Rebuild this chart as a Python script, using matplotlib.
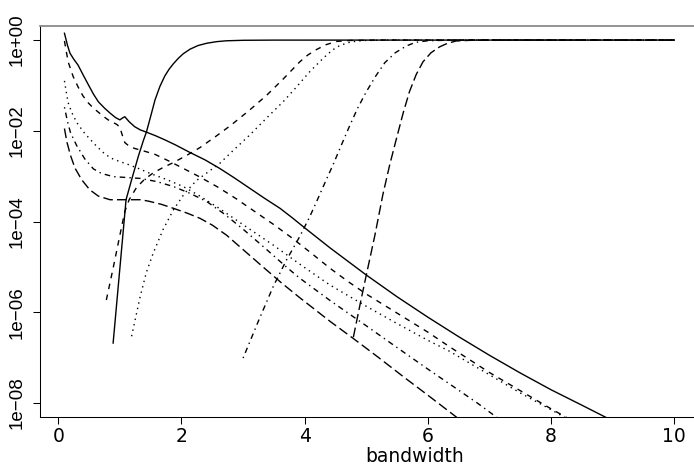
import matplotlib
matplotlib.use('Agg')
import matplotlib.pyplot as plt
import numpy as np

# values; y values are stored as log10(y)

# decreasing curves
f1_x = [0.10, 0.15, 0.19, 0.25, 0.32, 0.40, 0.49, 0.57, 0.65, 0.75, 0.84, 0.93, 1.00, 1.04, 1.08,
        1.15, 1.24, 1.33, 1.43, 1.58, 1.73, 1.90, 2.14, 2.38, 2.62, 2.86, 3.11, 3.35, 3.60, 3.80,
        4.00, 4.41, 5.00, 5.50, 6.00, 6.50, 7.00, 7.50, 8.00, 8.50, 8.95]
f1_y = [0.15, -0.12, -0.29, -0.42, -0.55, -0.76, -0.99, -1.19, -1.36, -1.50, -1.61, -1.71, -1.76,
        -1.72, -1.69, -1.80, -1.91, -1.98, -2.03, -2.11, -2.20, -2.31, -2.48, -2.64, -2.83, -3.04,
        -3.27, -3.49, -3.71, -3.92, -4.14, -4.58, -5.18, -5.66, -6.11, -6.54, -6.95, -7.34, -7.71,
        -8.05, -8.36]

f2_x = [0.10, 0.13, 0.16, 0.24, 0.32, 0.40, 0.49, 0.57, 0.65, 0.73, 0.81, 0.95, 1.00, 1.03, 1.08,
        1.15, 1.24, 1.40, 1.57, 1.80, 2.03, 2.30, 2.60, 2.89, 3.20, 3.50, 3.80, 4.10, 4.41, 4.70,
        5.00, 5.50, 6.00, 6.35, 7.00, 7.50, 8.00, 8.25]
f2_y = [-0.02, -0.25, -0.48, -0.80, -1.03, -1.23, -1.39, -1.50, -1.59, -1.68, -1.76, -1.86, -1.92,
        -2.06, -2.26, -2.34, -2.39, -2.45, -2.52, -2.67, -2.83, -3.02, -3.25, -3.50, -3.79, -4.07,
        -4.37, -4.69, -5.03, -5.32, -5.60, -6.02, -6.44, -6.76, -7.33, -7.73, -8.13, -8.32]

f3_x = [0.10, 0.13, 0.16, 0.22, 0.30, 0.43, 0.60, 0.73, 0.85, 1.00, 1.11, 1.30, 1.49, 1.75, 2.03,
        2.30, 2.60, 3.00, 3.50, 3.95, 4.41, 5.00, 5.50, 6.00, 6.35, 7.00, 7.50, 8.00, 8.25]
f3_y = [-0.90, -1.15, -1.38, -1.60, -1.82, -2.06, -2.31, -2.48, -2.60, -2.68, -2.73, -2.83, -2.94,
        -3.07, -3.23, -3.44, -3.70, -4.07, -4.53, -4.97, -5.40, -5.87, -6.25, -6.62, -6.86, -7.38,
        -7.78, -8.15, -8.34]

f4_x = [0.10, 0.15, 0.20, 0.30, 0.43, 0.57, 0.70, 0.89, 1.10, 1.33, 1.60, 1.87, 2.14, 2.41, 2.70,
        3.00, 3.35, 3.70, 3.92, 4.41, 5.00, 5.50, 6.08, 6.35, 6.80, 7.12]
f4_y = [-1.48, -1.80, -2.05, -2.33, -2.62, -2.84, -2.94, -3.01, -3.03, -3.05, -3.12, -3.23, -3.38,
        -3.56, -3.84, -4.17, -4.58, -5.00, -5.25, -5.74, -6.30, -6.78, -7.33, -7.58, -8.00, -8.32]

f5_x = [0.10, 0.14, 0.20, 0.27, 0.38, 0.51, 0.65, 0.84, 1.11, 1.33, 1.46, 1.67, 1.87, 2.10, 2.30,
        2.50, 2.73, 3.00, 3.33, 3.62, 3.92, 4.41, 4.79, 5.20, 5.60, 6.00, 6.47]
f5_y = [-1.95, -2.25, -2.55, -2.82, -3.08, -3.30, -3.44, -3.52, -3.52, -3.52, -3.55, -3.62, -3.71,
        -3.82, -3.93, -4.08, -4.30, -4.62, -5.01, -5.35, -5.68, -6.20, -6.58, -7.00, -7.42, -7.83,
        -8.32]

# increasing curves
r1_x = [0.89, 1.10, 1.19, 1.30, 1.38, 1.43, 1.50, 1.57, 1.65, 1.73, 1.80, 1.87, 1.95, 2.03, 2.14,
        2.27, 2.41, 2.57, 2.73, 3.00, 3.50, 10.0]
r1_y = [-6.68, -3.52, -3.08, -2.56, -2.22, -2.03, -1.68, -1.32, -1.02, -0.79, -0.64, -0.52, -0.40,
        -0.30, -0.20, -0.12, -0.07, -0.035, -0.016, -0.005, -0.001, 0.0]

r2_x = [0.78, 0.89, 1.00, 1.08, 1.15, 1.27, 1.40, 1.54, 1.70, 1.87, 2.10, 2.30, 2.55, 2.80, 3.10,
        3.38, 3.65, 3.92, 4.05, 4.19, 4.35, 4.52, 4.75, 5.20, 10.0]
r2_y = [-5.73, -5.03, -4.30, -3.78, -3.52, -3.25, -3.07, -2.93, -2.81, -2.70, -2.53, -2.37, -2.13,
        -1.88, -1.55, -1.22, -0.86, -0.48, -0.33, -0.21, -0.10, -0.03, -0.008, 0.0, 0.0]

r3_x = [1.19, 1.33, 1.43, 1.54, 1.70, 1.87, 2.05, 2.24, 2.46, 2.62, 2.85, 3.11, 3.38, 3.65, 3.85,
        4.08, 4.30, 4.45, 4.57, 4.75, 4.95, 5.40, 10.0]
r3_y = [-6.53, -5.65, -5.12, -4.70, -4.18, -3.74, -3.38, -3.10, -2.88, -2.72, -2.42, -2.09, -1.72,
        -1.36, -1.06, -0.70, -0.40, -0.22, -0.12, -0.04, -0.01, 0.0, 0.0]

r4_x = [3.00, 3.25, 3.49, 3.70, 3.92, 4.08, 4.20, 4.35, 4.46, 4.60, 4.73, 4.86, 5.00, 5.15, 5.30,
        5.47, 5.65, 5.80, 6.00, 6.40, 10.0]
r4_y = [-7.01, -6.19, -5.43, -4.86, -4.33, -3.90, -3.54, -3.08, -2.75, -2.30, -1.89, -1.50, -1.14,
        -0.80, -0.50, -0.28, -0.13, -0.05, -0.015, 0.0, 0.0]

r5_x = [4.79, 4.90, 5.00, 5.14, 5.27, 5.38, 5.49, 5.60, 5.70, 5.81, 5.92, 6.05, 6.19, 6.32, 6.46,
        6.70, 7.00, 10.0]
r5_y = [-6.55, -5.82, -5.18, -4.30, -3.40, -2.75, -2.17, -1.60, -1.14, -0.76, -0.48, -0.28, -0.15,
        -0.07, -0.02, -0.005, 0.0, 0.0]

x_ticks = [0, 2, 4, 6, 8, 10]
y_ticks = [1e0, 1e-2, 1e-4, 1e-6, 1e-8]
y_tick_labels = ['1e+00', '1e\u221202', '1e\u221204', '1e\u221206', '1e\u221208']

# R line types: solid, dashed, dotted, dotdash, longdash
ltys = ['-', (0, (4, 4)), (0, (1, 3)), (0, (1, 3, 4, 3)), (0, (7, 3))]


def main():
    plt.rcParams['font.family'] = ['Liberation Sans', 'DejaVu Sans']
    fig = plt.figure(figsize=(6.94, 4.69), dpi=100)
    W, H = 694.0, 469.0
    ax = fig.add_axes([40 / W, 52 / H, 658.7 / W, 391 / H])

    falling = [(f1_x, f1_y), (f2_x, f2_y), (f3_x, f3_y), (f4_x, f4_y), (f5_x, f5_y)]
    rising = [(r1_x, r1_y), (r2_x, r2_y), (r3_x, r3_y), (r4_x, r4_y), (r5_x, r5_y)]
    for i in range(5):
        x, y = falling[i]
        ax.plot(x, np.power(10.0, y), color='black', lw=1.0, linestyle=ltys[i])
        x, y = rising[i]
        ax.plot(x, np.power(10.0, y), color='black', lw=1.0, linestyle=ltys[i])

    ax.set_yscale('log')
    ax.set_xlim(-0.297, 10.396)
    ax.set_ylim(10 ** -8.31, 10 ** 0.31)
    ax.set_xticks(x_ticks)
    # the source picture is stretched sideways, so horizontal text is wider
    ax.set_xticklabels([str(t) for t in x_ticks], family='DejaVu Sans')
    ax.set_yticks(y_ticks)
    ax.set_yticklabels(y_tick_labels, rotation=90, va='center')
    ax.minorticks_off()
    ax.tick_params(axis='both', direction='out', length=5, width=0.75, labelsize=13.5, color='black')
    ax.tick_params(axis='x', pad=2)
    ax.tick_params(axis='y', pad=5)
    for s in ax.spines.values():
        s.set_linewidth(0.75)
    ax.spines['top'].set_color('#808080')
    ax.spines['top'].set_linewidth(1.2)

    fig.text(415 / W, 1 - 456 / H, 'bandwidth', ha='center', va='center', fontsize=13.5,
             family='DejaVu Sans')

    fig.savefig('out.png', dpi=100)


if __name__ == "__main__":
    main()
